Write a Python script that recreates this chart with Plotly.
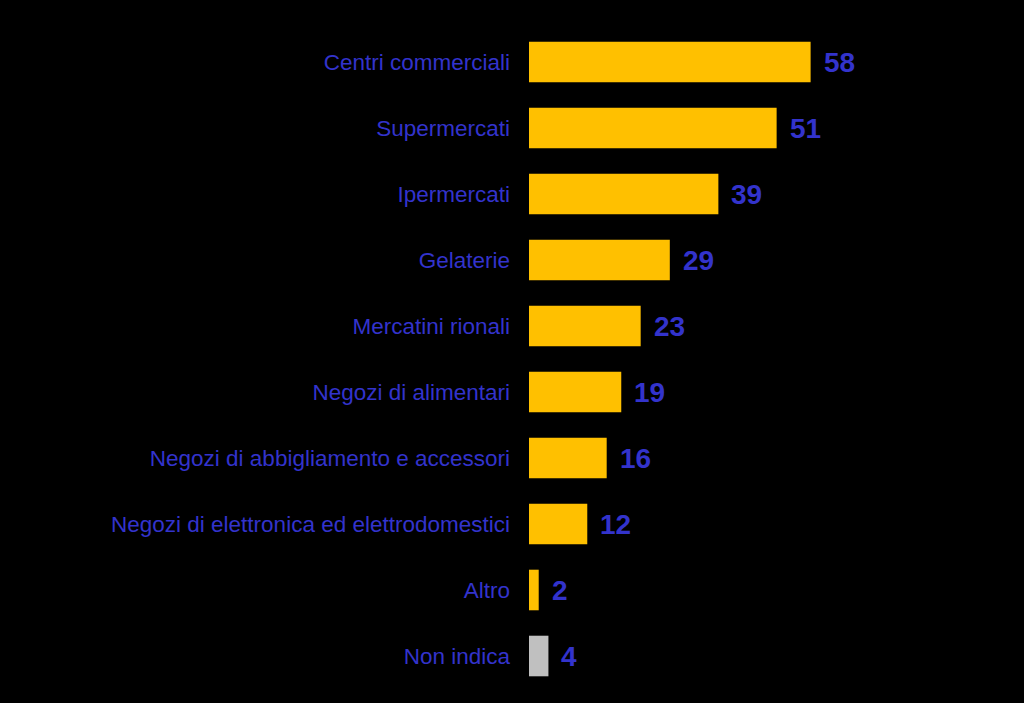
import plotly.graph_objects as go

categories = [
    "Centri commerciali",
    "Supermercati",
    "Ipermercati",
    "Gelaterie",
    "Mercatini rionali",
    "Negozi di alimentari",
    "Negozi di abbigliamento e accessori",
    "Negozi di elettronica ed elettrodomestici",
    "Altro",
    "Non indica",
]
values = [58, 51, 39, 29, 23, 19, 16, 12, 2, 4]
bar_colors = ["#FFC000"] * 9 + ["#C0C0C0"]

blue = "#3333CC"

fig = go.Figure(
    go.Bar(
        x=values,
        y=categories,
        orientation="h",
        marker=dict(color=bar_colors, line=dict(width=0)),
        hoverinfo="skip",
    )
)

for c, v in zip(categories, values):
    fig.add_annotation(
        x=v, y=c, text=f"<b>{v}</b>", showarrow=False,
        xanchor="left", yanchor="middle", xshift=11,
        font=dict(family="Liberation Sans, Arial, sans-serif", size=28, color=blue),
    )

fig.update_layout(
    width=1024, height=703,
    paper_bgcolor="black", plot_bgcolor="black",
    margin=dict(l=529, r=58, t=29, b=14),
    bargap=0.385,
    showlegend=False,
    xaxis=dict(range=[0, 90], visible=False, showgrid=False, zeroline=False),
    yaxis=dict(
        autorange="reversed",
        showgrid=False, zeroline=False, showline=False,
        ticks="", ticklabelstandoff=18,
        tickfont=dict(family="Liberation Sans, Arial, sans-serif", size=22.5, color=blue),
    ),
)

fig.write_html(
    "out.html",
    config={"displayModeBar": False},
    post_script="document.body.style.margin='0';document.body.style.background='black';document.body.style.overflow='hidden';",
)
